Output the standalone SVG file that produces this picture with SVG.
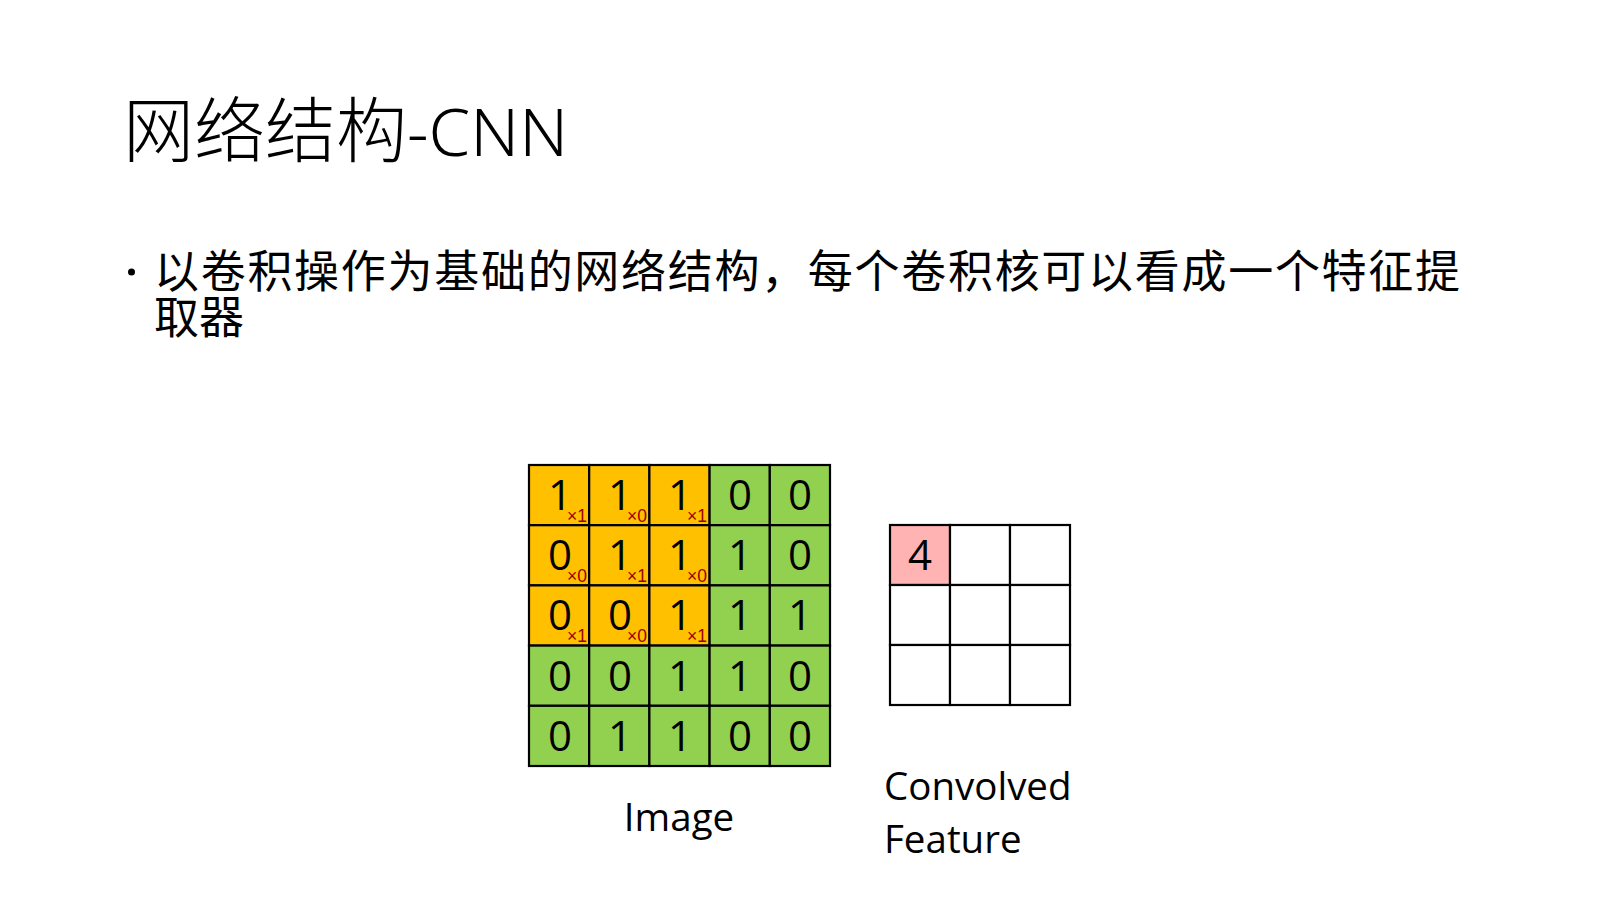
<svg xmlns="http://www.w3.org/2000/svg" width="1600" height="900" viewBox="0 0 1600 900">
<style>
.title{font-family:"Noto Sans CJK SC","Noto Sans",sans-serif;font-size:71px;font-weight:300;fill:#000}
.lat{font-family:"Noto Sans","Open Sans",sans-serif;font-size:67px;font-weight:300}
.body{font-family:"Noto Sans CJK SC",sans-serif;font-size:45px;fill:#000}
.d{font-family:"Open Sans","Liberation Sans",sans-serif;font-size:42px;fill:#000;text-anchor:middle}
.s{font-family:"Liberation Sans",sans-serif;font-size:17.5px;fill:#9a0000;text-anchor:middle}
.lbl{font-family:"Open Sans","Liberation Sans",sans-serif;font-size:38.5px;fill:#000}
.o{fill:#FFC000;stroke:#000;stroke-width:2.2}
.g{fill:#92D050;stroke:#000;stroke-width:2.2}
.w{fill:#fff;stroke:#000;stroke-width:2.2}
.p{fill:#FFB3B3;stroke:#000;stroke-width:2.2}
</style>
<rect width="1600" height="900" fill="#fff"/>
<g id="title"><text class="title" x="123" y="156">网络结构<tspan class="lat">-CNN</tspan></text></g>
<g id="bullet">
<circle cx="131.5" cy="272" r="3.5" fill="#000"/>
<text class="body" x="154" y="288" textLength="1306" lengthAdjust="spacing">以卷积操作为基础的网络结构，每个卷积核可以看成一个特征提</text>
<text class="body" x="154" y="334">取器</text>
</g>
<g id="image">
<rect class="o" x="529" y="465" width="60.2" height="60.2"/><rect class="o" x="589.2" y="465" width="60.2" height="60.2"/><rect class="o" x="649.4" y="465" width="60.2" height="60.2"/><rect class="g" x="709.6" y="465" width="60.2" height="60.2"/><rect class="g" x="769.8" y="465" width="60.2" height="60.2"/>
<rect class="o" x="529" y="525.2" width="60.2" height="60.2"/><rect class="o" x="589.2" y="525.2" width="60.2" height="60.2"/><rect class="o" x="649.4" y="525.2" width="60.2" height="60.2"/><rect class="g" x="709.6" y="525.2" width="60.2" height="60.2"/><rect class="g" x="769.8" y="525.2" width="60.2" height="60.2"/>
<rect class="o" x="529" y="585.4" width="60.2" height="60.2"/><rect class="o" x="589.2" y="585.4" width="60.2" height="60.2"/><rect class="o" x="649.4" y="585.4" width="60.2" height="60.2"/><rect class="g" x="709.6" y="585.4" width="60.2" height="60.2"/><rect class="g" x="769.8" y="585.4" width="60.2" height="60.2"/>
<rect class="g" x="529" y="645.6" width="60.2" height="60.2"/><rect class="g" x="589.2" y="645.6" width="60.2" height="60.2"/><rect class="g" x="649.4" y="645.6" width="60.2" height="60.2"/><rect class="g" x="709.6" y="645.6" width="60.2" height="60.2"/><rect class="g" x="769.8" y="645.6" width="60.2" height="60.2"/>
<rect class="g" x="529" y="705.8" width="60.2" height="60.2"/><rect class="g" x="589.2" y="705.8" width="60.2" height="60.2"/><rect class="g" x="649.4" y="705.8" width="60.2" height="60.2"/><rect class="g" x="709.6" y="705.8" width="60.2" height="60.2"/><rect class="g" x="769.8" y="705.8" width="60.2" height="60.2"/>
<text class="d" x="560" y="510">1</text><text class="d" x="620" y="510">1</text><text class="d" x="680" y="510">1</text><text class="d" x="740" y="510">0</text><text class="d" x="800" y="510">0</text>
<text class="d" x="560" y="570">0</text><text class="d" x="620" y="570">1</text><text class="d" x="680" y="570">1</text><text class="d" x="740" y="570">1</text><text class="d" x="800" y="570">0</text>
<text class="d" x="560" y="630">0</text><text class="d" x="620" y="630">0</text><text class="d" x="680" y="630">1</text><text class="d" x="740" y="630">1</text><text class="d" x="800" y="630">1</text>
<text class="d" x="560" y="691">0</text><text class="d" x="620" y="691">0</text><text class="d" x="680" y="691">1</text><text class="d" x="740" y="691">1</text><text class="d" x="800" y="691">0</text>
<text class="d" x="560" y="751">0</text><text class="d" x="620" y="751">1</text><text class="d" x="680" y="751">1</text><text class="d" x="740" y="751">0</text><text class="d" x="800" y="751">0</text>
<text class="s" x="577" y="522">×1</text><text class="s" x="637" y="522">×0</text><text class="s" x="697" y="522">×1</text>
<text class="s" x="577" y="582">×0</text><text class="s" x="637" y="582">×1</text><text class="s" x="697" y="582">×0</text>
<text class="s" x="577" y="642">×1</text><text class="s" x="637" y="642">×0</text><text class="s" x="697" y="642">×1</text>
<text class="lbl" x="679" y="831" text-anchor="middle">Image</text>
</g>
<g id="feature">
<rect class="p" x="890" y="525" width="60" height="60"/><rect class="w" x="950" y="525" width="60" height="60"/><rect class="w" x="1010" y="525" width="60" height="60"/>
<rect class="w" x="890" y="585" width="60" height="60"/><rect class="w" x="950" y="585" width="60" height="60"/><rect class="w" x="1010" y="585" width="60" height="60"/>
<rect class="w" x="890" y="645" width="60" height="60"/><rect class="w" x="950" y="645" width="60" height="60"/><rect class="w" x="1010" y="645" width="60" height="60"/>
<text class="d" x="920" y="570">4</text>
<text class="lbl" x="884" y="800">Convolved</text>
<text class="lbl" x="884" y="853">Feature</text>
</g>
<g id="connectors"/>
</svg>
